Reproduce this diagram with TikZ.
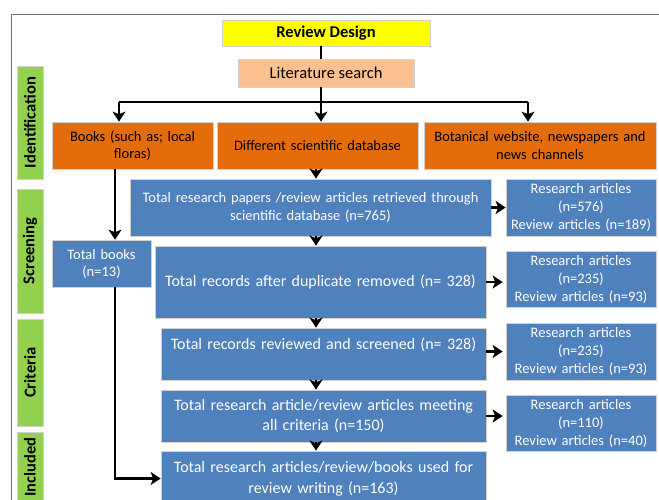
\documentclass[tikz,border=0pt]{standalone}
\usepackage{fontspec}
\setmainfont{Carlito}
\usetikzlibrary{arrows.meta}

\definecolor{ofblue}{HTML}{4F81BD}
\definecolor{oforange}{HTML}{E46C0A}
\definecolor{ofgreen}{HTML}{92D050}
\definecolor{ofpeach}{HTML}{FAC090}
\definecolor{ofyellow}{HTML}{FFFF00}

\tikzset{
  box/.style={draw=black!18, line width=0.7pt, align=center, inner sep=0pt},
  bluebox/.style={box, fill=ofblue, text=white},
  orangebox/.style={box, fill=oforange, text=black, font=\fontsize{14.5}{17.5}\selectfont},
  countbox/.style={bluebox, minimum width=150pt, text width=150pt, font=\fontsize{14.5}{18}\selectfont},
  stagebox/.style={box, fill=ofgreen, rotate=90, minimum height=26pt, font=\bfseries\fontsize{16.5}{18}\selectfont},
  flow/.style={line width=2.5pt, -{Stealth[length=10pt, width=13pt, inset=2.5pt]}},
}

\begin{document}
\begin{tikzpicture}[x=1pt, y=-1pt]
  \useasboundingbox (0,0) rectangle (659,499);
  \clip (0,0) rectangle (659,499);

  % Frame
  \draw[line width=0.8pt, black!55] (11,14) rectangle (720,560);

  % Title
  \node[box, fill=ofyellow, minimum width=208pt, minimum height=26pt,
        font=\bfseries\fontsize{16.5}{18}\selectfont] (design) at (326,33) {Review Design};
  \node[box, fill=ofpeach, minimum width=176pt, minimum height=28pt,
        font=\fontsize{16.5}{18}\selectfont] (lit) at (326,73) {Literature search};

  % Stages
  \node[stagebox, minimum width=113pt] (ident) at (30,122.5) {Identification};
  \node[stagebox, minimum width=124pt] (screen) at (30,251) {Screening};
  \node[stagebox, minimum width=107pt] (crit) at (30,372.5) {Criteria};
  \node[stagebox, minimum width=70pt] (incl) at (30,467) {Included};

  % Sources
  \node[orangebox, minimum width=161pt, minimum height=47pt, text width=158pt] (books)
    at (132.5,145.5) {Books (such as; local\\floras)};
  \node[orangebox, minimum width=201pt, minimum height=47pt, text width=198pt] (db)
    at (317.5,145.5) {Different scientific database};
  \node[orangebox, minimum width=232pt, minimum height=47pt, text width=230pt] (web)
    at (540,145.5) {Botanical website, newspapers and\\news channels};

  % Records
  \node[bluebox, minimum width=361pt, minimum height=57pt, text width=358pt,
        font=\fontsize{14.5}{18}\selectfont] (ret) at (310.5,207.5)
    {Total research papers /review articles retrieved through\\scientific database (n=765)};
  \node[bluebox, minimum width=99pt, minimum height=47pt, text width=97pt,
        font=\fontsize{14.5}{17}\selectfont] (tbooks) at (101.5,263.5) {Total books\\(n=13)};
  \node[bluebox, minimum width=331pt, minimum height=72pt, text width=329pt,
        font=\fontsize{16}{20}\selectfont] (dup) at (320.5,282)
    {Total records after duplicate removed (n= 328)};
  \node[bluebox, minimum width=325pt, minimum height=52pt, text width=323pt,
        font=\fontsize{16}{20}\selectfont] (rev) at (323.5,354)
    {Total records reviewed and screened (n= 328)\\\mbox{}};
  \node[bluebox, minimum width=325pt, minimum height=52pt, text width=323pt,
        font=\fontsize{16}{20}\selectfont] (meet) at (323.5,416)
    {Total research article/review articles meeting\\all criteria (n=150)};
  \node[bluebox, minimum width=325pt, minimum height=55pt, text width=323pt,
        font=\fontsize{16}{21}\selectfont] (used) at (323.5,478.5)
    {Total research articles/review/books used for\\review writing (n=163)};

  % Counts
  \node[countbox, minimum height=57pt] (cnta) at (581,207.5)
    {Research articles\\(n=576)\\Review articles (n=189)};
  \node[countbox, minimum height=56pt] (cntb) at (581,279)
    {Research articles\\(n=235)\\Review articles (n=93)};
  \node[countbox, minimum height=57pt] (cntc) at (581,351.5)
    {Research articles\\(n=235)\\Review articles (n=93)};
  \node[countbox, minimum height=56pt] (cntd) at (581,423)
    {Research articles\\(n=110)\\Review articles (n=40)};

  % Connectors
  \coordinate (splitL) at (119,102);
  \coordinate (splitR) at (528,102);
  \coordinate (spine) at (316,0);
  \coordinate (bookline) at (115,0);
  \draw[line width=2.5pt] ([xshift=-5pt]design.south) -- ([xshift=-5pt]lit.north);
  \draw[flow] ([xshift=-5pt]lit.south) -- ([xshift=-5pt]lit.south |- db.north);
  \draw[line width=2.5pt] (splitL) -- (splitR);
  \draw[flow] (splitL) -- (splitL |- books.north);
  \draw[flow] (splitR) -- (splitR |- web.north);
  \draw[flow] (db.south -| spine) -- (ret.north -| spine);
  \draw[flow] (ret.south -| spine) -- (dup.north -| spine);
  \draw[flow] (dup.south -| spine) -- (rev.north -| spine);
  \draw[flow] (rev.south -| spine) -- (meet.north -| spine);
  \draw[flow] (meet.south -| spine) -- (used.north -| spine);
  \draw[flow] (ret.east) -- (cnta.west);
  \draw[flow, shorten >=3pt] (dup.east) -- (dup.east -| cntb.west);
  \draw[flow, shorten >=3pt] (rev.east |- cntc.west) -- (cntc.west);
  \draw[flow, shorten >=3pt] (meet.east) -- (meet.east -| cntd.west);
  \draw[flow] (books.south -| bookline) -- (tbooks.north -| bookline);
  \draw[flow] (tbooks.south -| bookline) |- (used.west);
\end{tikzpicture}
\end{document}
